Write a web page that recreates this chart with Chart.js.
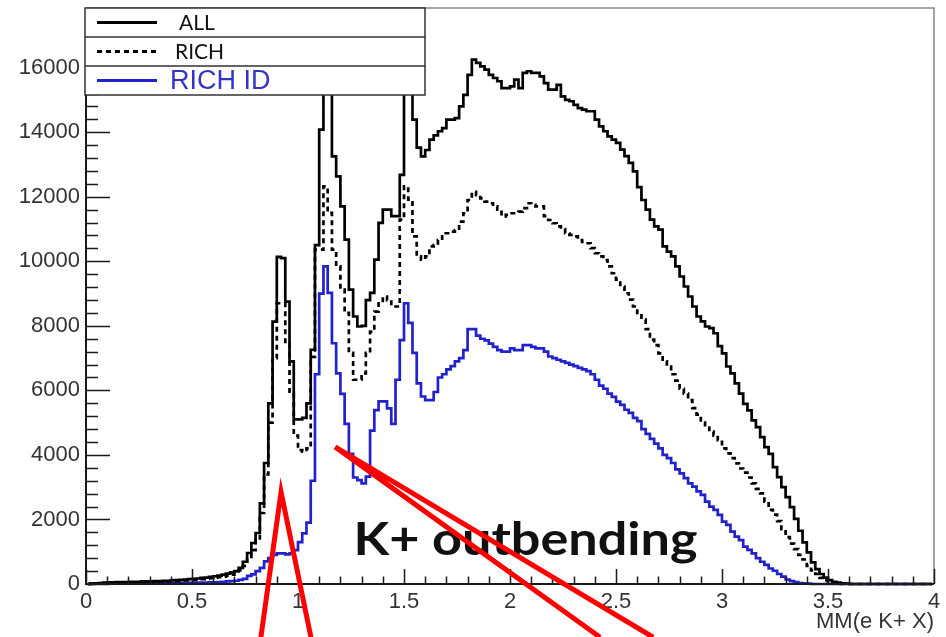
<!DOCTYPE html>
<html>
<head>
<meta charset="utf-8">
<script src="https://cdn.jsdelivr.net/npm/chart.js@4.4.1/dist/chart.umd.min.js"></script>
<style>
  html, body { margin: 0; padding: 0; background: #fff; }
  #wrap { width: 946px; height: 637px; position: relative; }
</style>
</head>
<body>
<div id="wrap"><canvas id="c" width="946" height="637"></canvas></div>
<script>
// ---------------- data ----------------
const BIN_WIDTH = 0.02;   // 200 bins between 0 and 4

const allCounts = [
  0,10,20,30,40,50,50,60,60,60,
  70,70,70,80,80,80,90,90,100,100,
  110,120,130,140,150,160,170,190,200,220,
  240,260,290,320,360,400,500,690,960,1270,
  1580,2500,3750,5600,8130,10140,10100,8750,6900,5100,
  5100,5150,5600,7260,10500,14080,17000,16200,13250,12630,
  11700,10670,9120,8290,7980,8000,8800,9020,10050,11190,
  11600,11600,11400,11400,12680,16000,16300,14390,13520,13250,
  13450,13770,13900,14030,14130,14390,14390,14440,14800,15160,
  15780,16250,16150,16040,15940,15780,15680,15580,15370,15370,
  15420,15630,15370,15840,15890,15840,15840,15730,15520,15320,
  15320,15470,15110,15000,14960,14850,14750,14700,14650,14650,
  14390,14180,14030,13870,13770,13670,13460,13260,13050,12790,
  12300,11900,11600,11290,11080,10980,10460,10300,10150,9840,
  9530,9220,8910,8600,8290,8140,7980,7930,7770,7370,
  7150,6740,6530,6220,5900,5580,5380,5070,4860,4550,
  4240,4030,3620,3310,3000,2690,2380,2020,1650,1290,
  980,670,460,310,200,120,70,40,20,10,
  0,0,0,0,0,0,0,0,0,0,
  0,0,0,0,0,0,0,0,0,0
];

const richCounts = [
  0,10,15,20,30,40,40,45,50,50,
  55,55,60,60,65,65,70,70,75,80,
  85,90,100,110,120,130,140,150,160,180,
  200,210,230,260,290,330,420,560,780,1050,
  1350,2200,3400,5000,7000,8700,8700,7500,5900,4600,
  4150,4100,4200,7040,10360,10360,12320,11500,10360,9840,
  9120,8400,7160,6330,6330,6530,7160,7820,8440,8700,
  8910,8800,8600,8600,11290,12320,11910,10770,10150,10050,
  10150,10460,10500,10660,10870,10870,10920,10970,11230,11490,
  11900,12150,12050,11950,11850,11800,11700,11600,11390,11440,
  11490,11490,11540,11650,11800,11750,11700,11700,11400,11280,
  11180,11080,11000,10870,10820,10770,10660,10600,10560,10410,
  10250,10150,10040,9840,9630,9430,9220,9010,8810,8600,
  8400,8190,7900,7570,7400,7150,6900,6740,6500,6300,
  6050,5900,5700,5450,5250,5000,4850,4720,4600,4460,
  4200,4050,3900,3740,3580,3450,3300,3120,2950,2810,
  2550,2300,2150,1950,1700,1450,1250,1080,900,760,
  560,420,310,190,110,60,30,10,0,0,
  0,0,0,0,0,0,0,0,0,0,
  0,0,0,0,0,0,0,0,0,0
];

const richIdCounts = [
  0,5,10,10,10,15,15,15,15,20,
  20,20,20,20,25,25,25,25,30,30,
  30,30,35,35,35,40,40,40,45,50,
  55,60,70,80,90,100,130,160,250,300,
  400,500,700,800,900,950,950,920,950,1050,
  1300,1570,1900,3200,6500,9000,9840,9020,7460,6530,
  5890,4960,4030,3300,3220,3120,3330,4750,5390,5660,
  5660,5440,4960,6330,7560,8700,8090,7160,6220,5810,
  5700,5700,5950,6400,6500,6650,6750,6900,7000,7250,
  7900,7900,7700,7600,7550,7450,7350,7250,7200,7200,
  7300,7250,7250,7400,7400,7350,7300,7300,7200,7050,
  7000,6950,6900,6850,6800,6750,6700,6650,6600,6500,
  6330,6150,6050,5900,5800,5650,5550,5400,5300,5150,
  5050,4800,4650,4500,4350,4200,4000,3900,3750,3550,
  3430,3280,3120,3020,2870,2760,2550,2400,2300,2140,
  1930,1830,1620,1470,1360,1160,1060,950,800,690,
  590,480,410,310,230,140,90,60,30,20,
  10,0,0,0,0,0,0,0,0,0,
  0,0,0,0,0,0,0,0,0,0,
  0,0,0,0,0,0,0,0,0,0
];

const seriesNames = ['ALL', 'RICH', 'RICH ID'];
const xTickValues = [0, 0.5, 1, 1.5, 2, 2.5, 3, 3.5, 4];
const yTickValues = [0, 2000, 4000, 6000, 8000, 10000, 12000, 14000, 16000];
const xAxisTitle = 'MM(e K+ X)';
const panelLabel = 'K+ outbending';

// ---------------- build ----------------
const binCenters = allCounts.map((_, i) => +(BIN_WIDTH * (i + 0.5)).toFixed(3));
const toPoints = arr => arr.map((v, i) => ({ x: binCenters[i], y: v }));

const BLUE = '#2222cc';

// hand-drawn red annotation strokes, given in axis units
const redStrokes = [
  [[0.825, -1650], [0.92, 2850], [1.061, -1650]],
  [[2.425, -1650], [1.175, 4250], [2.675, -1650]]
];

const overlay = {
  id: 'overlay',
  afterDatasetsDraw(chart) {
    const { ctx, chartArea: a, scales: { x, y } } = chart;
    ctx.save();
    // frame (top / right)
    ctx.strokeStyle = '#888';
    ctx.lineWidth = 1.5;
    ctx.beginPath();
    ctx.moveTo(a.left, a.top); ctx.lineTo(a.right, a.top); ctx.lineTo(a.right, a.bottom);
    ctx.stroke();
    // axes
    ctx.strokeStyle = '#1a1a1a';
    ctx.lineWidth = 2;
    ctx.beginPath();
    ctx.moveTo(a.left, a.top); ctx.lineTo(a.left, a.bottom); ctx.lineTo(a.right, a.bottom);
    ctx.stroke();
    // inward ticks
    ctx.lineWidth = 1.5;
    ctx.beginPath();
    for (let i = 0; i <= 40; i++) {
      const px = Math.round(x.getPixelForValue(i * 0.1)) + 0.5;
      const len = (i % 5 === 0) ? 15 : 7.5;
      ctx.moveTo(px, a.bottom); ctx.lineTo(px, a.bottom - len);
    }
    for (let v = 0; v <= y.max; v += 400) {
      const py = Math.round(y.getPixelForValue(v)) + 0.5;
      const len = (v % 2000 === 0) ? 24 : 12;
      ctx.moveTo(a.left, py); ctx.lineTo(a.left + len, py);
    }
    ctx.stroke();

    // panel label
    ctx.font = 'bold 46px Lato';
    ctx.fillStyle = '#111';
    ctx.textBaseline = 'alphabetic';
    ctx.textAlign = 'center';
    const w = ctx.measureText(panelLabel).width;
    const targetW = x.getPixelForValue(2.885) - x.getPixelForValue(1.262);
    ctx.save();
    ctx.translate(x.getPixelForValue(2.073), y.getPixelForValue(900));
    ctx.scale(targetW / w, 1);
    ctx.fillText(panelLabel, 0, 0);
    ctx.restore();

    // red strokes
    ctx.strokeStyle = '#ff0000';
    ctx.lineWidth = 5;
    ctx.lineJoin = 'miter';
    ctx.miterLimit = 10;
    redStrokes.forEach(s => {
      ctx.beginPath();
      s.forEach(([vx, vy], k) => {
        const px = x.getPixelForValue(vx), py = y.getPixelForValue(vy);
        if (k === 0) ctx.moveTo(px, py); else ctx.lineTo(px, py);
      });
      ctx.stroke();
    });
    ctx.restore();
  },
  afterDraw(chart) {
    const { ctx, chartArea: a } = chart;
    const L = a.left - 1, T = a.top, R = 425, rowH = 29;
    ctx.save();
    ctx.fillStyle = '#fff';
    ctx.fillRect(L, T, R - L, rowH * 3);
    ctx.strokeStyle = '#333';
    ctx.lineWidth = 1.5;
    ctx.strokeRect(L, T, R - L, rowH * 3);
    ctx.beginPath();
    ctx.moveTo(L, T + rowH); ctx.lineTo(R, T + rowH);
    ctx.moveTo(L, T + 2 * rowH); ctx.lineTo(R, T + 2 * rowH);
    ctx.stroke();
    const ds = chart.data.datasets;
    const textX = [179, 175, 170];
    const fonts = ['21px Lato', '21px Lato', '27px "Liberation Sans"'];
    const tcol = ['#111', '#111', '#3434c8'];
    ds.forEach((d, i) => {
      const cy = T + rowH * (i + 0.5);
      ctx.strokeStyle = d.borderColor;
      ctx.lineWidth = 3;
      ctx.setLineDash(d.borderDash || []);
      ctx.beginPath();
      ctx.moveTo(97, cy); ctx.lineTo(157, cy);
      ctx.stroke();
      ctx.setLineDash([]);
      ctx.font = fonts[i];
      ctx.fillStyle = tcol[i];
      ctx.textAlign = 'left';
      ctx.textBaseline = 'middle';
      ctx.fillText(d.label, textX[i], cy + 1);
    });
    ctx.restore();
  }
};

const tickFont = { family: '"Liberation Sans", Arial, sans-serif', size: 22 };

new Chart(document.getElementById('c'), {
  type: 'line',
  data: {
    datasets: [
      { label: seriesNames[0], data: toPoints(allCounts), borderColor: '#000', borderWidth: 2.7 },
      { label: seriesNames[1], data: toPoints(richCounts), borderColor: '#000', borderWidth: 2.7, borderDash: [5, 4] },
      { label: seriesNames[2], data: toPoints(richIdCounts), borderColor: BLUE, borderWidth: 2.7 }
    ].map(d => Object.assign(d, { stepped: 'middle', pointRadius: 0, fill: false, clip: false, tension: 0 }))
  },
  options: {
    responsive: false,
    animation: false,
    devicePixelRatio: 1,
    layout: { padding: { top: 8, right: 12, left: 0, bottom: 0 } },
    plugins: { legend: { display: false }, tooltip: { enabled: false }, title: { display: false } },
    scales: {
      x: {
        type: 'linear', min: 0, max: 4,
        afterFit(s) { s.height = 53; s.paddingLeft = 0; s.paddingRight = 0; },
        afterBuildTicks(s) { s.ticks = xTickValues.map(v => ({ value: v })); },
        grid: { display: false, drawTicks: false },
        border: { display: false },
        ticks: { font: tickFont, color: '#333', padding: 5, autoSkip: false, maxRotation: 0, callback: v => String(v) },
        title: { display: true, text: xAxisTitle, align: 'end', font: tickFont, color: '#333', padding: { top: 0, bottom: 2 } }
      },
      y: {
        type: 'linear', min: 0, max: 17850,
        afterFit(s) { s.width = 86; s.paddingTop = 0; s.paddingBottom = 0; },
        afterBuildTicks(s) { s.ticks = yTickValues.map(v => ({ value: v })); },
        grid: { display: false, drawTicks: false },
        border: { display: false },
        ticks: { font: tickFont, color: '#333', padding: 6, autoSkip: false, callback: v => String(v) }
      }
    }
  },
  plugins: [overlay]
});
</script>
</body>
</html>
